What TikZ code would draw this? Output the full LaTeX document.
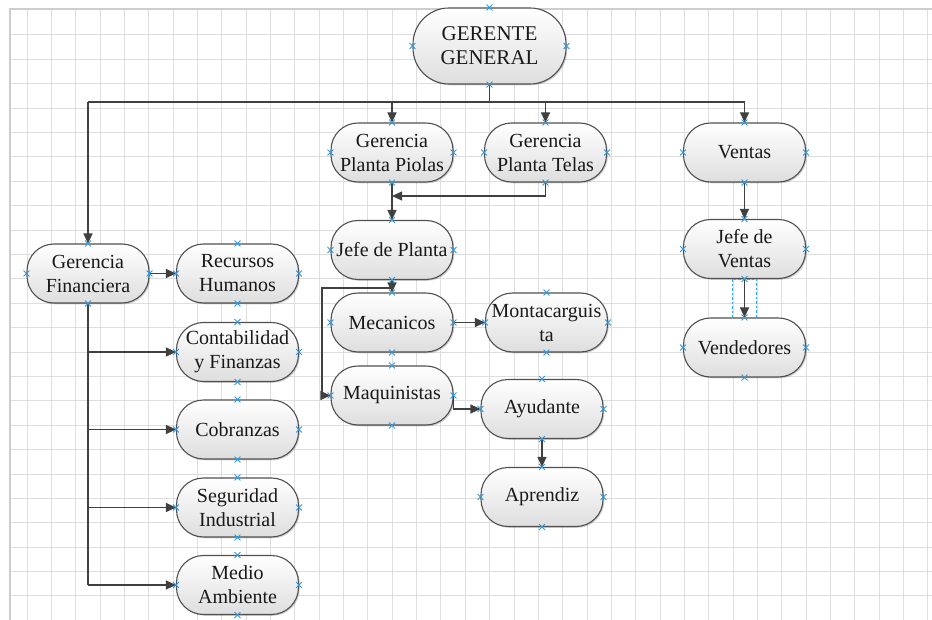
\documentclass[tikz,border=0pt]{standalone}
\usepackage{fontspec}
\setmainfont{Liberation Serif}
\usetikzlibrary{arrows.meta,shadows,shapes.misc,calc}
\definecolor{gridc}{RGB}{222,222,222}
\definecolor{borderc}{RGB}{205,205,205}
\definecolor{edgec}{RGB}{80,80,80}
\definecolor{linec}{RGB}{64,64,64}
\definecolor{xblue}{RGB}{52,152,219}
\definecolor{selc}{RGB}{40,170,240}
\definecolor{shadec}{RGB}{222,222,222}
\definecolor{txtc}{RGB}{25,25,25}
\begin{document}
\begin{tikzpicture}[x=1pt,y=-1pt,
  box/.style={rectangle, rounded corners=27pt, draw=edgec, line width=1.1pt,
    top color=white, bottom color=shadec, minimum width=122pt, minimum height=59pt,
    inner sep=1pt, align=center, text=txtc, font=\fontsize{20}{24}\selectfont,
    drop shadow={shadow xshift=1.3pt, shadow yshift=-1.3pt, fill=black, opacity=0.18}},
  conn/.style={draw=linec, line width=1.1pt},
  arr/.style={conn, -{Triangle[length=10pt,width=9pt]}},
  xmk/.style={cross out, draw=xblue, line width=0.9pt, minimum size=5pt, inner sep=0pt},
  sel/.style={draw=selc, dash pattern=on 2.5pt off 2pt, line width=0.8pt}]

\useasboundingbox (0,0) rectangle (932,620);
\fill[white] (0,0) rectangle (932,620);

% grid
\foreach \i in {0,...,37} \draw[gridc, line width=1pt] ({27+24.35*\i},9) -- ({27+24.35*\i},620);
\foreach \j in {1,...,25} \draw[gridc, line width=1pt] (10,{10.6+24.39*\j}) -- (932,{10.6+24.39*\j});
\draw[borderc, line width=1.3pt] (10,620) -- (10,9) -- (932,9);

% nodes
\node[box, minimum width=153pt, minimum height=76pt, rounded corners=36pt,
      font=\fontsize{21}{24}\selectfont] (GG) at (489.5,46) {GERENTE\\GENERAL};
\node[box] (GPP) at (392,152.5) {Gerencia\\Planta Piolas};
\node[box] (GPT) at (545.5,152.5) {Gerencia\\Planta Telas};
\node[box] (Ventas) at (744.5,152.5) {Ventas};
\node[box] (JefeV) at (744.5,249) {Jefe de\\Ventas};
\node[box] (Vend) at (744.5,347.5) {Vendedores};
\node[box] (JefeP) at (392,250) {Jefe de Planta};
\node[box] (Mec) at (392,322.5) {Mecanicos};
\node[box] (Monta) at (546.5,322.5) {Montacarguis\\ta};
\node[box] (Maq) at (392,395.5) {Maquinistas};
\node[box] (Ayud) at (542,409) {Ayudante};
\node[box] (Apr) at (542,497) {Aprendiz};
\node[box] (GF) at (88,273.5) {Gerencia\\Financiera};
\node[box] (RH) at (237.5,273.5) {Recursos\\Humanos};
\node[box] (Cont) at (237.5,352) {Contabilidad\\y Finanzas};
\node[box] (Cob) at (237.5,429.5) {Cobranzas};
\node[box] (Seg) at (237.5,507.5) {Seguridad\\Industrial};
\node[box] (Medio) at (237.5,585) {Medio\\Ambiente};

% helper coordinates
\coordinate (bus) at (0,102);
\coordinate (merge) at (0,196);
\coordinate (leftX) at (322,288);

% connectors
\draw[conn] (GG.south) -- (GG.south |- bus);
\draw[conn] (GF.north |- bus) -- (Ventas.north |- bus);
\draw[arr] (GF.north |- bus) -- (GF.north);
\draw[arr] (GPP.north |- bus) -- (GPP.north);
\draw[arr] (GPT.north |- bus) -- (GPT.north);
\draw[arr] (Ventas.north |- bus) -- (Ventas.north);

\draw[arr] (GPT.south) |- (GPP.south |- merge);
\draw[arr] (GPP.south) -- (JefeP.north);
\draw[arr] (JefeP.south) -- (Mec.north);
\draw[arr] (JefeP.south) -- (JefeP.south |- leftX) -- (leftX) |- (Maq.west);
\draw[arr] (Mec.east) -- (Monta.west);
\draw[arr] (Maq.east) |- (Ayud.west);
\draw[arr] (Ayud.south) -- (Apr.north);

\draw[arr] (Ventas.south) -- (JefeV.north);
\draw[arr] (JefeV.south) -- (Vend.north);

\draw[arr] (GF.east) -- (RH.west);
\draw[conn] (GF.south) -- (GF.south |- Medio.west);
\foreach \n in {Cont,Cob,Seg,Medio}
  \draw[arr] (GF.south |- \n.west) -- (\n.west);

% selection rectangle
\draw[sel] ($(JefeV.south)+(-12.5,0)$) rectangle ($(Vend.north)+(12,0)$);

% connection markers
\foreach \n in {GG,GPP,GPT,Ventas,JefeV,Vend,JefeP,Mec,Monta,Maq,Ayud,Apr,GF,RH,Cont,Cob,Seg,Medio}
  \foreach \a in {north,south,east,west}
    \node[xmk] at (\n.\a) {};
\end{tikzpicture}
\end{document}
